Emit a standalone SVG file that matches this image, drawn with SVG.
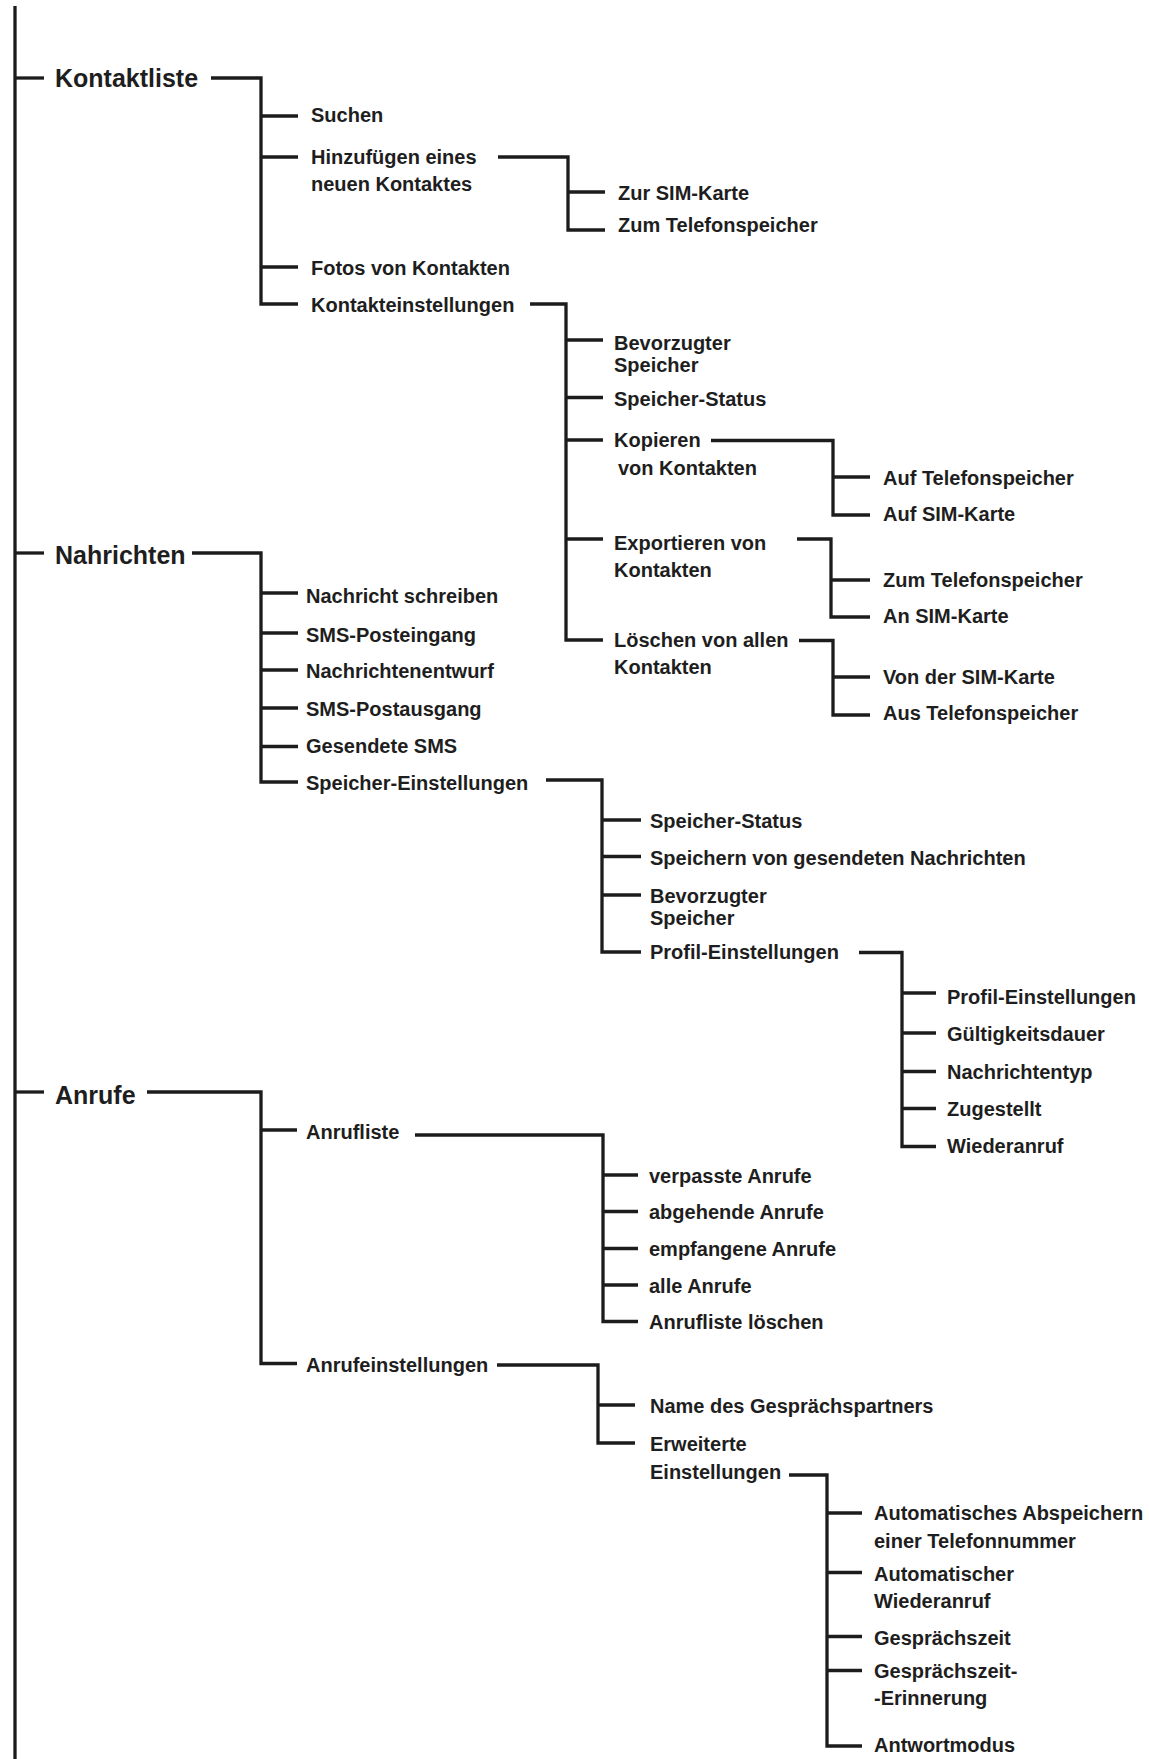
<svg xmlns="http://www.w3.org/2000/svg" width="1149" height="1759" viewBox="0 0 1149 1759">
<style>
  .bg{fill:#ffffff}
  .ln{fill:none;stroke:#1c1c1c;stroke-width:3.3;stroke-linecap:butt;stroke-linejoin:miter}
  text{font-family:"Liberation Sans",Arial,sans-serif;font-weight:bold;fill:#1e1e1e}
  .h1{font-size:25px}
  .t{font-size:20px}
</style>
<rect class="bg" x="0" y="0" width="1149" height="1759"/>
<g id="connectors">
  <!-- main spine -->
  <path class="ln" d="M15 6 V1759"/>
  <path class="ln" d="M15 78 H44"/>
  <path class="ln" d="M15 553 H44"/>
  <path class="ln" d="M15 1092 H44"/>
  <!-- Kontaktliste -->
  <path class="ln" d="M211 78 H261 V304 H298"/>
  <path class="ln" d="M261 116 H298"/>
  <path class="ln" d="M261 157 H298"/>
  <path class="ln" d="M261 267 H298"/>
  <!-- Hinzufuegen -->
  <path class="ln" d="M498 157 H568 V230 H605"/>
  <path class="ln" d="M568 192 H605"/>
  <!-- Kontakteinstellungen -->
  <path class="ln" d="M530 304 H566 V640 H603"/>
  <path class="ln" d="M566 340 H603"/>
  <path class="ln" d="M566 397.5 H603"/>
  <path class="ln" d="M566 440 H603"/>
  <path class="ln" d="M566 539 H603"/>
  <!-- Kopieren -->
  <path class="ln" d="M711 440.5 H833 V515 H870"/>
  <path class="ln" d="M833 477 H870"/>
  <!-- Exportieren -->
  <path class="ln" d="M797 539 H831 V617 H870"/>
  <path class="ln" d="M831 580 H870"/>
  <!-- Loeschen -->
  <path class="ln" d="M799 640.5 H833 V715 H870"/>
  <path class="ln" d="M833 677 H870"/>
  <!-- Nahrichten -->
  <path class="ln" d="M192 553 H261 V782 H298"/>
  <path class="ln" d="M261 593 H298"/>
  <path class="ln" d="M261 633 H298"/>
  <path class="ln" d="M261 670 H298"/>
  <path class="ln" d="M261 708 H298"/>
  <path class="ln" d="M261 746.5 H298"/>
  <!-- Speicher-Einstellungen -->
  <path class="ln" d="M546 780 H602 V952 H641"/>
  <path class="ln" d="M602 820 H641"/>
  <path class="ln" d="M602 856.5 H641"/>
  <path class="ln" d="M602 895 H641"/>
  <!-- Profil-Einstellungen -->
  <path class="ln" d="M859 952.5 H902 V1146.5 H936"/>
  <path class="ln" d="M902 993 H936"/>
  <path class="ln" d="M902 1033 H936"/>
  <path class="ln" d="M902 1071.5 H936"/>
  <path class="ln" d="M902 1108.5 H936"/>
  <!-- Anrufe -->
  <path class="ln" d="M147 1092 H261 V1363.5 H297"/>
  <path class="ln" d="M261 1130 H297"/>
  <!-- Anrufliste -->
  <path class="ln" d="M415 1135 H603 V1321.5 H638"/>
  <path class="ln" d="M603 1175 H638"/>
  <path class="ln" d="M603 1211.5 H638"/>
  <path class="ln" d="M603 1248.5 H638"/>
  <path class="ln" d="M603 1285 H638"/>
  <!-- Anrufeinstellungen -->
  <path class="ln" d="M497 1365 H598 V1443 H635"/>
  <path class="ln" d="M598 1405 H635"/>
  <!-- Erweiterte Einstellungen -->
  <path class="ln" d="M789 1475 H827 V1746 H862"/>
  <path class="ln" d="M827 1513 H862"/>
  <path class="ln" d="M827 1572.5 H862"/>
  <path class="ln" d="M827 1636.5 H862"/>
  <path class="ln" d="M827 1670.5 H862"/>
</g>

<g id="kontaktliste"><text class="h1" x="55" y="87">Kontaktliste</text></g>
<g id="suchen"><text class="t" x="311" y="122">Suchen</text></g>
<g id="hinzufuegen"><text class="t" x="311" y="164">Hinzufügen eines</text><text class="t" x="311" y="191">neuen Kontaktes</text></g>
<g id="zur-sim"><text class="t" x="618" y="200">Zur SIM-Karte</text></g>
<g id="zum-telefon-1"><text class="t" x="618" y="232">Zum Telefonspeicher</text></g>
<g id="fotos"><text class="t" x="311" y="275">Fotos von Kontakten</text></g>
<g id="kontakteinstellungen"><text class="t" x="311" y="312">Kontakteinstellungen</text></g>
<g id="bevorzugter-1"><text class="t" x="614" y="350">Bevorzugter</text><text class="t" x="614" y="372">Speicher</text></g>
<g id="speicher-status-1"><text class="t" x="614" y="406">Speicher-Status</text></g>
<g id="kopieren"><text class="t" x="614" y="447">Kopieren</text><text class="t" x="618" y="475">von Kontakten</text></g>
<g id="auf-telefon"><text class="t" x="883" y="485">Auf Telefonspeicher</text></g>
<g id="auf-sim"><text class="t" x="883" y="521">Auf SIM-Karte</text></g>
<g id="exportieren"><text class="t" x="614" y="550">Exportieren von</text><text class="t" x="614" y="577">Kontakten</text></g>
<g id="zum-telefon-2"><text class="t" x="883" y="587">Zum Telefonspeicher</text></g>
<g id="an-sim"><text class="t" x="883" y="623">An SIM-Karte</text></g>
<g id="loeschen"><text class="t" x="614" y="647">Löschen von allen</text><text class="t" x="614" y="674">Kontakten</text></g>
<g id="von-sim"><text class="t" x="883" y="684">Von der SIM-Karte</text></g>
<g id="aus-telefon"><text class="t" x="883" y="720">Aus Telefonspeicher</text></g>

<g id="nahrichten"><text class="h1" x="55" y="564">Nahrichten</text></g>
<g id="nachricht-schreiben"><text class="t" x="306" y="603">Nachricht schreiben</text></g>
<g id="sms-posteingang"><text class="t" x="306" y="642">SMS-Posteingang</text></g>
<g id="nachrichtenentwurf"><text class="t" x="306" y="678">Nachrichtenentwurf</text></g>
<g id="sms-postausgang"><text class="t" x="306" y="716">SMS-Postausgang</text></g>
<g id="gesendete-sms"><text class="t" x="306" y="753">Gesendete SMS</text></g>
<g id="speicher-einstellungen"><text class="t" x="306" y="790">Speicher-Einstellungen</text></g>
<g id="speicher-status-2"><text class="t" x="650" y="828">Speicher-Status</text></g>
<g id="speichern-gesendet"><text class="t" x="650" y="865">Speichern von gesendeten Nachrichten</text></g>
<g id="bevorzugter-2"><text class="t" x="650" y="903">Bevorzugter</text><text class="t" x="650" y="925">Speicher</text></g>
<g id="profil-einstellungen"><text class="t" x="650" y="959">Profil-Einstellungen</text></g>
<g id="profil-einstellungen-2"><text class="t" x="947" y="1004">Profil-Einstellungen</text></g>
<g id="gueltigkeitsdauer"><text class="t" x="947" y="1041">Gültigkeitsdauer</text></g>
<g id="nachrichtentyp"><text class="t" x="947" y="1079">Nachrichtentyp</text></g>
<g id="zugestellt"><text class="t" x="947" y="1116">Zugestellt</text></g>
<g id="wiederanruf"><text class="t" x="947" y="1153">Wiederanruf</text></g>

<g id="anrufe"><text class="h1" x="55" y="1104">Anrufe</text></g>
<g id="anrufliste"><text class="t" x="306" y="1139">Anrufliste</text></g>
<g id="verpasste"><text class="t" x="649" y="1183">verpasste Anrufe</text></g>
<g id="abgehende"><text class="t" x="649" y="1219">abgehende Anrufe</text></g>
<g id="empfangene"><text class="t" x="649" y="1256">empfangene Anrufe</text></g>
<g id="alle"><text class="t" x="649" y="1293">alle Anrufe</text></g>
<g id="anrufliste-loeschen"><text class="t" x="649" y="1329">Anrufliste löschen</text></g>
<g id="anrufeinstellungen"><text class="t" x="306" y="1372">Anrufeinstellungen</text></g>
<g id="name-partner"><text class="t" x="650" y="1413">Name des Gesprächspartners</text></g>
<g id="erweiterte"><text class="t" x="650" y="1451">Erweiterte</text><text class="t" x="650" y="1479">Einstellungen</text></g>
<g id="auto-abspeichern"><text class="t" x="874" y="1520">Automatisches Abspeichern</text><text class="t" x="874" y="1548">einer Telefonnummer</text></g>
<g id="auto-wiederanruf"><text class="t" x="874" y="1581">Automatischer</text><text class="t" x="874" y="1608">Wiederanruf</text></g>
<g id="gespraechszeit"><text class="t" x="874" y="1645">Gesprächszeit</text></g>
<g id="erinnerung"><text class="t" x="874" y="1678">Gesprächszeit-</text><text class="t" x="874" y="1705">-Erinnerung</text></g>
<g id="antwortmodus"><text class="t" x="874" y="1752">Antwortmodus</text></g>
</svg>
